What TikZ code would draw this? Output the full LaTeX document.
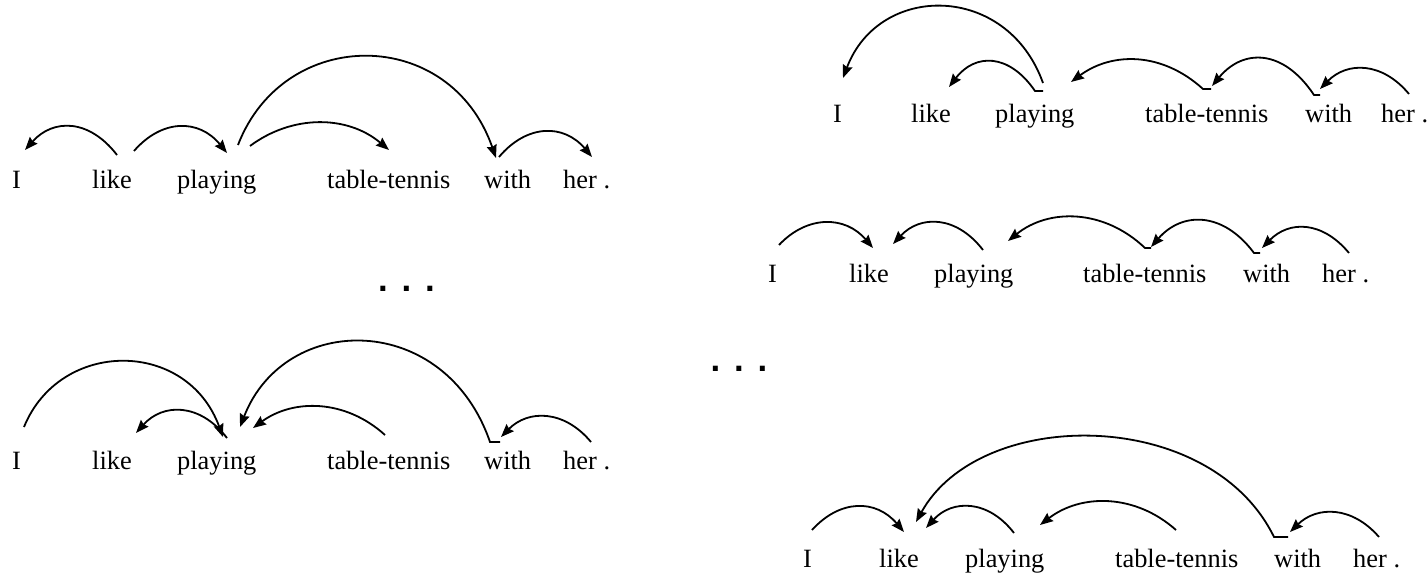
\documentclass[tikz,border=0pt]{standalone}
\usepackage{fontspec}
\setmainfont{Liberation Serif}
\newfontfamily\dotfont{DejaVu Sans}
\usetikzlibrary{arrows.meta}
\begin{document}
\begin{tikzpicture}[x=1pt,y=1pt,
  w/.style={anchor=base west,inner sep=0pt,font=\fontsize{26.4}{30}\selectfont},
  dep/.style={line width=1.8pt,-{Stealth[length=13pt,width=10pt,inset=1.5pt]}},
  dots/.style={anchor=base,inner sep=0pt,font=\dotfont\bfseries\fontsize{28}{32}\selectfont}]
\useasboundingbox (0,0) rectangle (1427,574);
% ---------- panel 1 ----------
\node[w] (p1I) at (12,385) {I};
\node[w] (p1like) at (92,385) {like};
\node[w] (p1play) at (177,385) {playing};
\node[w] (p1tt) at (327,385) {table-tennis};
\node[w] (p1with) at (484,385) {with};
\node[w] (p1her) at (563,385) {her .};
\draw[dep] ([shift={(25,34)}]p1like.base west) .. controls +(-28,36.5) and +(28,31.5) .. ([shift={(13,39)}]p1I.base west);
\draw[dep] ([shift={(42,38)}]p1like.base west) .. controls +(28,32.3) and +(-28,34.3) .. ([shift={(50,36)}]p1play.base west);
\draw[dep] ([shift={(73,43)}]p1play.base west) .. controls +(42,31.3) and +(-42,35.3) .. ([shift={(62,39)}]p1tt.base west);
\draw[dep] ([shift={(61,44)}]p1play.base west) .. controls +(46,119.5) and +(-46,132.5) .. ([shift={(12,31)}]p1with.base west);
\draw[dep] ([shift={(15,32)}]p1with.base west) .. controls +(28,33.3) and +(-28,33.3) .. ([shift={(29,32)}]p1her.base west);
% ---------- panel 2 ----------
\node[w] (p2I) at (12,105) {I};
\node[w] (p2like) at (92,105) {like};
\node[w] (p2play) at (177,105) {playing};
\node[w] (p2tt) at (327,105) {table-tennis};
\node[w] (p2with) at (484,105) {with};
\node[w] (p2her) at (563,105) {her .};
\draw[dep] ([shift={(12,42)}]p2I.base west) .. controls +(36,88.3) and +(-36,98.3) .. ([shift={(46,32)}]p2play.base west);
\draw[dep] ([shift={(50,31)}]p2play.base west) .. controls +(-27,35.2) and +(27,30.2) .. ([shift={(44,36)}]p2like.base west);
\draw[dep] ([shift={(16,27)}]p2with.base west) -- ++(-10,0) .. controls +(-45,130.8) and +(45,115.8) .. ([shift={(63,42)}]p2play.base west);
\draw[dep] ([shift={(58,34)}]p2tt.base west) .. controls +(-40,36.2) and +(40,29.2) .. ([shift={(76,41)}]p2play.base west);
\draw[dep] ([shift={(28,27)}]p2her.base west) .. controls +(-27,32.5) and +(27,27.5) .. ([shift={(17,32)}]p2with.base west);
% ---------- panel 3 ----------
\node[w] (p3I) at (833,451) {I};
\node[w] (p3like) at (911,451) {like};
\node[w] (p3play) at (995,451) {playing};
\node[w] (p3tt) at (1145,451) {table-tennis};
\node[w] (p3with) at (1305,451) {with};
\node[w] (p3her) at (1381,451) {her .};
\draw[dep] ([shift={(48,40)}]p3play.base west) .. controls +(-36,100.5) and +(36,95.5) .. ([shift={(10,45)}]p3I.base west);
\draw[dep] ([shift={(48,32)}]p3play.base west) -- ++(-8,0) .. controls +(-26,38) and +(26,34) .. ([shift={(38,36)}]p3like.base west);
\draw[dep] ([shift={(66,34)}]p3tt.base west) -- ++(-8,0) .. controls +(-41,37.3) and +(41,30.3) .. ([shift={(76,41)}]p3play.base west);
\draw[dep] ([shift={(15,28)}]p3with.base west) -- ++(-6,0) .. controls +(-31,46.5) and +(31,37.5) .. ([shift={(67,37)}]p3tt.base west);
\draw[dep] ([shift={(28,29)}]p3her.base west) .. controls +(-27,32.5) and +(27,27.5) .. ([shift={(15,34)}]p3with.base west);
% ---------- panel 4 ----------
\node[w] (p4I) at (768,292) {I};
\node[w] (p4like) at (849,292) {like};
\node[w] (p4play) at (934,292) {playing};
\node[w] (p4tt) at (1083,292) {table-tennis};
\node[w] (p4with) at (1243,292) {with};
\node[w] (p4her) at (1322,292) {her .};
\draw[dep] ([shift={(11,37)}]p4I.base west) .. controls +(28,29.8) and +(-28,32.8) .. ([shift={(24,34)}]p4like.base west);
\draw[dep] ([shift={(49,32)}]p4play.base west) .. controls +(-27,35) and +(27,29) .. ([shift={(44,38)}]p4like.base west);
\draw[dep] ([shift={(68,34)}]p4tt.base west) -- ++(-6,0) .. controls +(-41,39) and +(41,33) .. ([shift={(74,41)}]p4play.base west);
\draw[dep] ([shift={(17,29)}]p4with.base west) -- ++(-6,0) .. controls +(-31,41.7) and +(31,35.7) .. ([shift={(68,35)}]p4tt.base west);
\draw[dep] ([shift={(27,29)}]p4her.base west) .. controls +(-27,32.5) and +(27,27.5) .. ([shift={(19,34)}]p4with.base west);
% ---------- panel 5 ----------
\node[w] (p5I) at (803,7) {I};
\node[w] (p5like) at (879,7) {like};
\node[w] (p5play) at (965,7) {playing};
\node[w] (p5tt) at (1115,7) {table-tennis};
\node[w] (p5with) at (1274,7) {with};
\node[w] (p5her) at (1353,7) {her .};
\draw[dep] ([shift={(9,37)}]p5I.base west) .. controls +(28,31) and +(-28,33) .. ([shift={(25,35)}]p5like.base west);
\draw[dep] ([shift={(49,34)}]p5play.base west) .. controls +(-26,33.8) and +(26,28.8) .. ([shift={(47,39)}]p5like.base west);
\draw[dep] ([shift={(61,37)}]p5tt.base west) .. controls +(-41,36.5) and +(41,31.5) .. ([shift={(75,42)}]p5play.base west);
\draw[dep] ([shift={(14,30)}]p5with.base west) -- ++(-14,0) .. controls +(-64,130.8) and +(64,115.8) .. ([shift={(37,45)}]p5like.base west);
\draw[dep] ([shift={(26,30)}]p5her.base west) .. controls +(-27,31.2) and +(27,26.2) .. ([shift={(16,35)}]p5with.base west);
% ---------- ellipses ----------
\node[dots] (d1) at (406.5,283) {.\hspace{12.9pt}.\hspace{12.9pt}.};
\node[dots] (d2) at (739,203) {.\hspace{12.9pt}.\hspace{12.9pt}.};
\end{tikzpicture}
\end{document}
